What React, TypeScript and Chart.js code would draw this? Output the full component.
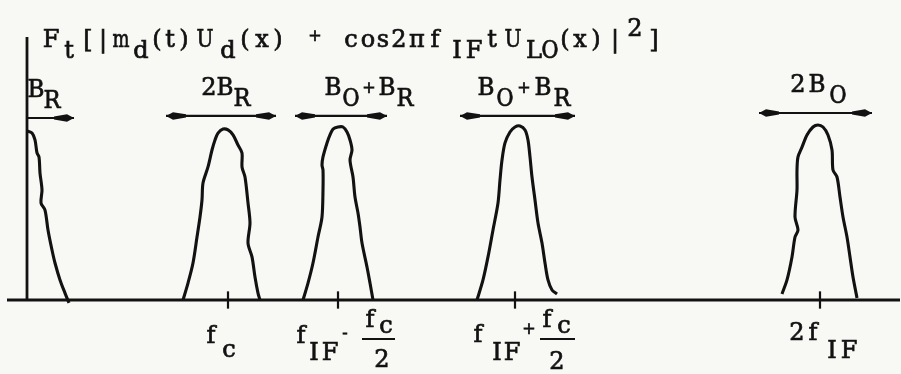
import React, { useEffect, useRef } from "react";
import { Chart, registerables } from "chart.js";

Chart.register(...registerables);

// Frequency in arbitrary units (origin at the vertical axis), amplitude in % of a full lobe.
const BASEBAND_F = [0, 0.5, 0.8, 1.0, 1.2, 1.3, 1.5, 1.4, 1.8, 2.1, 2.5, 2.8, 3.3, 3.8, 4.2];
const BASEBAND_A = [97.7, 96.5, 92.5, 85.0, 82.7, 73.4, 63.6, 56.1, 52.0, 40.5, 28.9, 21.4, 11.6, 4.0, -1.7];

const FC_F = [15.6, 16.1, 16.6, 17.0, 17.3, 17.5, 17.6, 18.1, 18.5, 18.8, 19.1, 19.6, 20.1, 20.6, 21.1, 21.5, 21.5, 21.8, 22.1, 22.3, 22.1, 22.5, 22.8, 23.1, 23.3];
const FC_A = [0, 9.8, 21.4, 36.4, 48.0, 57.8, 67.6, 76.9, 86.7, 92.5, 96.5, 98.8, 98.3, 95.4, 89.6, 85.0, 76.9, 71.1, 56.1, 44.5, 32.9, 24.9, 13.3, 4.0, 0];

const DIFF_F = [27.6, 28.1, 28.6, 29.1, 29.5, 29.6, 29.6, 29.5, 29.6, 30.0, 30.3, 30.6, 31.1, 31.6, 32.0, 32.3, 32.5, 32.3, 32.6, 32.8, 33.1, 33.3, 33.5, 34.0, 34.3, 34.6];
const DIFF_A = [0, 9.8, 21.4, 36.4, 48.0, 63.6, 75.1, 78.0, 82.7, 90.8, 95.4, 98.8, 100, 100, 97.1, 92.5, 86.7, 80.9, 71.1, 59.5, 50.3, 42.2, 32.9, 19.1, 9.8, 0];

const SUM_F = [45.0, 45.6, 46.1, 46.6, 47.1, 47.3, 47.5, 47.8, 48.3, 48.8, 49.3, 49.8, 50.1, 50.3, 50.5, 50.8, 51.1, 51.5, 51.8, 52.1, 52.5, 53.0];
const SUM_A = [0, 11.6, 24.9, 40.5, 56.1, 69.4, 80.9, 90.8, 97.1, 100, 100.6, 98.3, 92.5, 82.7, 71.1, 57.8, 44.5, 32.9, 21.4, 11.6, 5.8, 3.5];

const DOUBLE_F = [75.5, 76.0, 76.5, 76.8, 77.1, 76.8, 77.0, 77.0, 77.1, 77.5, 78.0, 78.6, 79.1, 79.6, 80.1, 80.5, 80.6, 81.0, 81.3, 81.6, 82.0, 82.3, 82.6, 83.0];
const DOUBLE_A = [3.5, 11.6, 24.9, 36.4, 40.5, 48.0, 63.6, 75.1, 82.7, 88.4, 95.4, 100, 101.2, 100, 95.4, 86.7, 75.1, 71.1, 59.5, 48.0, 36.4, 24.9, 13.3, 1.2];

// Marked frequencies: fc, fIF - fc/2, fIF + fc/2, 2fIF
const TICK_F = [20.1, 31.1, 48.8, 79.3];

// Bandwidth arrows
const ARROW_FROM = [0, 13.9, 26.8, 43.3, 73.2];
const ARROW_TO = [4.7, 24.9, 36.0, 54.8, 84.5];
const ARROW_LEVEL = [105.2, 106.4, 106.4, 106.4, 108.1];
const ARROW_TWO_HEADS = [false, true, true, true, true];

// Axis extents
const AXIS_F_START = -2.0;
const AXIS_F_END = 87.3;
const AXIS_A_TOP = 152;

// Glyph layouts: [char, dx px, level] (level 0 = line, 1 = subscript, -1 = superscript)
type G = [string, number, number];
const TITLE: G[] = [
  ["F", 51, 0], ["t", 69, 1], ["[", 88, 0], ["|", 103, 0], ["m", 121, 0], ["d", 141, 1],
  ["(", 157, 0], ["t", 170, 0], [")", 184, 0], ["U", 205, 0], ["d", 228, 1], ["(", 245, 0],
  ["x", 262, 0], [")", 278, 0], ["+", 315, 0], ["c", 351, 0], ["o", 368, 0], ["s", 383, 0],
  ["2", 399, 0], ["π", 417, 0], ["f", 435, 0], ["I", 457, 1], ["F", 474, 1], ["t", 492, 0],
  ["U", 513, 0], ["L", 534, 1], ["O", 550, 1], ["(", 565, 0], ["x", 580, 0], [")", 596, 0],
  ["|", 615, 0], ["2", 635, -1], ["]", 654, 0],
];

const ARROW_TEXT: G[][] = [
  [["B", -14.5, 0], ["R", 1.5, 1]],
  [["2", -12, 0], ["B", 4, 0], ["R", 21, 1]],
  [["B", -8, 0], ["O", 10, 1], ["+", 28, 0], ["B", 46, 0], ["R", 64, 1]],
  [["B", -31.5, 0], ["O", -12.5, 1], ["+", 6.5, 0], ["B", 25.5, 0], ["R", 44.5, 1]],
  [["2", -17.5, 0], ["B", 1.5, 0], ["O", 22.5, 1]],
];

// Tick label glyphs: [char, dx, dy] measured from the tick foot on the axis
type T = [string, number, number];
const TICK_TEXT: T[][] = [
  [["f", -17, 43], ["c", 1, 57]],
  [["f", -37, 43], ["I", -24, 60], ["F", -8, 60], ["-", 7, 38], ["f", 32, 27], ["c", 48, 33], ["2", 44, 67]],
  [["f", -37, 42], ["I", -18, 60], ["F", -3, 60], ["+", 14, 34], ["f", 32, 27], ["c", 49, 33], ["2", 42, 69]],
  [["2", -23, 40], ["f", -7, 40], ["I", 12, 58], ["F", 29, 58]],
];
const TICK_BARS: ([number, number, number] | null)[] = [null, [24, 57, 39], [25, 60, 39], null];

const INK = "#121212";
const PAPER = "#f8f8f5";
const FONT = '"DejaVu Serif", "Liberation Serif", serif';

function glyph(ctx: CanvasRenderingContext2D, ch: string, cx: number, base: number) {
  const small = ch === "+" || ch === "-";
  const size = small ? 16 : 24;
  ctx.font = `${size}px ${FONT}`;
  const w = ctx.measureText(ch).width;
  const maxW = 17;
  const sx = w > maxW ? maxW / w : 1;
  ctx.save();
  ctx.translate(cx, base);
  ctx.scale(sx, 1);
  ctx.textAlign = "center";
  ctx.textBaseline = "alphabetic";
  ctx.lineWidth = 0.7;
  ctx.fillText(ch, 0, 0);
  ctx.strokeText(ch, 0, 0);
  ctx.restore();
}

function head(ctx: CanvasRenderingContext2D, tip: number, y: number, dir: number) {
  ctx.beginPath();
  ctx.moveTo(tip, y);
  ctx.lineTo(tip - dir * 7, y - 3.8);
  ctx.lineTo(tip - dir * 20, y - 1.6);
  ctx.lineTo(tip - dir * 20, y + 1.6);
  ctx.lineTo(tip - dir * 7, y + 3.8);
  ctx.closePath();
  ctx.fill();
}

const pts = (xs: number[], ys: number[]) => xs.map((x, i) => ({ x, y: ys[i] }));

const curve = (xs: number[], ys: number[]) => ({
  data: pts(xs, ys),
  showLine: true,
  borderColor: INK,
  borderWidth: 3.1,
  pointRadius: 0,
  tension: 0.3,
  clip: false as const,
});

const straight = (xs: number[], ys: number[], w = 2.4) => ({
  data: pts(xs, ys),
  showLine: true,
  borderColor: INK,
  borderWidth: w,
  pointRadius: 0,
  tension: 0,
  clip: false as const,
});

const annotations = {
  id: "annotations",
  beforeDraw(chart: any) {
    const { ctx, width, height } = chart;
    ctx.save();
    ctx.fillStyle = PAPER;
    ctx.fillRect(0, 0, width, height);
    ctx.restore();
  },
  afterDatasetsDraw(chart: any) {
    const { ctx } = chart;
    const xs = chart.scales.x;
    const ys = chart.scales.y;
    ctx.save();
    ctx.fillStyle = INK;
    ctx.strokeStyle = INK;

    // arrow heads and bandwidth labels
    ARROW_FROM.forEach((f0, i) => {
      const x0 = xs.getPixelForValue(f0);
      const x1 = xs.getPixelForValue(ARROW_TO[i]);
      const y = ys.getPixelForValue(ARROW_LEVEL[i]);
      head(ctx, x1, y, 1);
      if (ARROW_TWO_HEADS[i]) head(ctx, x0, y, -1);
      const mid = (x0 + x1) / 2;
      ARROW_TEXT[i].forEach(([ch, dx, lvl]) => {
        const base = ch === "+" ? y - 23 : lvl === 1 ? y - 10 : y - 21;
        glyph(ctx, ch, mid + dx, base);
      });
    });

    // frequency labels under the ticks
    const axisY = ys.getPixelForValue(0);
    TICK_F.forEach((f, i) => {
      const tx = xs.getPixelForValue(f);
      TICK_TEXT[i].forEach(([ch, dx, dy]) => glyph(ctx, ch, tx + dx, axisY + dy));
      const bar = TICK_BARS[i];
      if (bar) {
        ctx.lineWidth = 2;
        ctx.beginPath();
        ctx.moveTo(tx + bar[0], axisY + bar[2]);
        ctx.lineTo(tx + bar[1], axisY + bar[2]);
        ctx.stroke();
      }
    });

    // spectrum expression
    TITLE.forEach(([ch, x, lvl]) => {
      const base = ch === "+" ? 41 : lvl === 1 ? 58 : lvl === -1 ? 36 : 47;
      glyph(ctx, ch, x, base);
    });
    ctx.restore();
  },
};

export default function App() {
  const ref = useRef<HTMLCanvasElement>(null);

  useEffect(() => {
    const canvas = ref.current;
    if (!canvas) return;
    const datasets: any[] = [
      straight([AXIS_F_START, AXIS_F_END], [0, 0], 2.8),
      straight([0, 0], [0, AXIS_A_TOP], 2.8),
      ...TICK_F.map((f) => straight([f, f], [-5, 5], 2.2)),
      ...ARROW_FROM.map((f0, i) => straight([f0, ARROW_TO[i]], [ARROW_LEVEL[i], ARROW_LEVEL[i]], 2.2)),
      curve(BASEBAND_F, BASEBAND_A),
      curve(FC_F, FC_A),
      curve(DIFF_F, DIFF_A),
      curve(SUM_F, SUM_A),
      curve(DOUBLE_F, DOUBLE_A),
    ];
    const chart = new Chart(canvas, {
      type: "scatter",
      data: { datasets },
      options: {
        animation: false,
        responsive: false,
        devicePixelRatio: 1,
        layout: { padding: 0 },
        plugins: { legend: { display: false }, tooltip: { enabled: false } },
        scales: {
          x: { type: "linear", min: -2.7, max: 87.4, display: false },
          y: { type: "linear", min: -42.77, max: 173.41, display: false },
        },
      },
      plugins: [annotations],
    } as any);
    return () => chart.destroy();
  }, []);

  return (
    <div style={{ position: "fixed", left: 0, top: 0, width: 901, height: 374, background: PAPER }}>
      <canvas ref={ref} width={901} height={374} style={{ display: "block" }} />
    </div>
  );
}
